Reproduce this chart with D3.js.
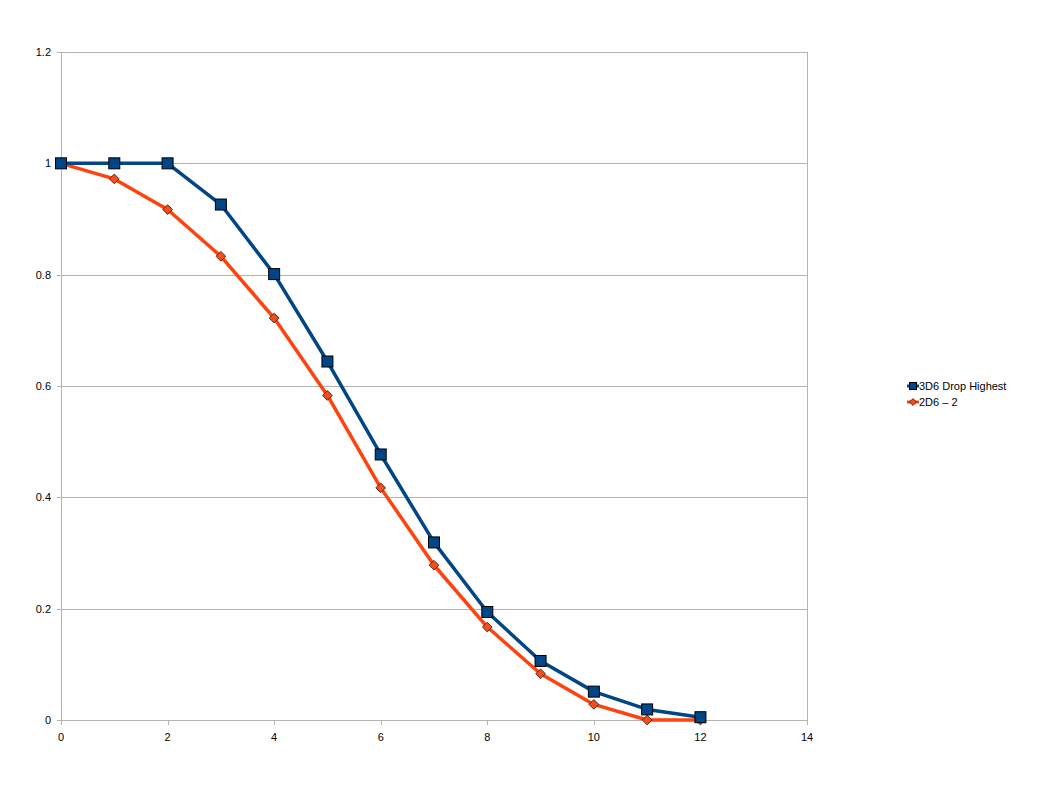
<!DOCTYPE html>
<html>
  <head>
    <meta charset="utf-8"/>
    <style>
    body {
      font-family: "Liberation Sans", Arial, sans-serif;
      margin: 0;
      background: #fff;
    }
    </style>
  </head>
  <body>
    <script src="https://d3js.org/d3.v7.min.js"></script>
    <script>
    var xValues = [0, 1, 2, 3, 4, 5, 6, 7, 8, 9, 10, 11, 12];
    var dropHighest = [1, 1, 1, 0.926, 0.801, 0.644, 0.477, 0.319, 0.194, 0.106, 0.051, 0.019, 0.005];
    var twoD6 = [1, 0.972, 0.917, 0.833, 0.722, 0.583, 0.417, 0.278, 0.167, 0.083, 0.028, 0, 0];
    var xTicks = [0, 2, 4, 6, 8, 10, 12, 14];
    var yTicks = [0, 0.2, 0.4, 0.6, 0.8, 1, 1.2];
    var seriesNames = ["3D6 Drop Highest", "2D6 \u2013 2"];

    var width = 1058, height = 794;
    var plotLeft = 61, plotRight = 807, plotTop = 52, plotBottom = 720;

    var x = d3.scaleLinear().domain([0, 14]).range([plotLeft, plotRight]);
    var y = d3.scaleLinear().domain([0, 1.2]).range([plotBottom, plotTop]);

    var svg = d3.select("body").append("svg")
        .attr("width", width)
        .attr("height", height);

    // grid
    svg.append("g").selectAll("line")
        .data(yTicks)
      .enter().append("line")
        .attr("x1", plotLeft - 4)
        .attr("x2", plotRight)
        .attr("y1", function(d) { return Math.round(y(d)) + 0.5; })
        .attr("y2", function(d) { return Math.round(y(d)) + 0.5; })
        .attr("stroke", "#b3b3b3");

    svg.append("line")
        .attr("x1", plotLeft + 0.5).attr("x2", plotLeft + 0.5)
        .attr("y1", plotTop).attr("y2", plotBottom)
        .attr("stroke", "#b3b3b3");
    svg.append("line")
        .attr("x1", plotRight + 0.5).attr("x2", plotRight + 0.5)
        .attr("y1", plotTop).attr("y2", plotBottom + 4)
        .attr("stroke", "#b3b3b3");

    svg.append("g").selectAll("line")
        .data(xTicks)
      .enter().append("line")
        .attr("x1", function(d) { return Math.round(x(d)) + 0.5; })
        .attr("x2", function(d) { return Math.round(x(d)) + 0.5; })
        .attr("y1", plotBottom)
        .attr("y2", plotBottom + 5)
        .attr("stroke", "#b3b3b3");

    svg.append("g").selectAll("text")
        .data(yTicks)
      .enter().append("text")
        .attr("x", plotLeft - 10)
        .attr("y", function(d) { return y(d) + 4; })
        .attr("text-anchor", "end")
        .attr("font-size", 11)
        .text(function(d) { return d3.format("~g")(d); });

    svg.append("g").selectAll("text")
        .data(xTicks)
      .enter().append("text")
        .attr("x", function(d) { return x(d); })
        .attr("y", plotBottom + 21)
        .attr("text-anchor", "middle")
        .attr("font-size", 11)
        .text(function(d) { return d; });

    var line = d3.line()
        .x(function(d, i) { return x(xValues[i]); })
        .y(function(d) { return y(d); });

    // orange series
    svg.append("path")
        .datum(twoD6)
        .attr("d", line)
        .attr("fill", "none")
        .attr("stroke", "#ff420e")
        .attr("stroke-width", 3.5)
        .attr("stroke-linejoin", "round");

    svg.append("g").selectAll("path")
        .data(twoD6)
      .enter().append("path")
        .attr("d", d3.symbol().type(d3.symbolDiamond2).size(60))
        .attr("transform", function(d, i) { return "translate(" + x(xValues[i]) + "," + y(d) + ")"; })
        .attr("fill", "#f0501e")
        .attr("stroke", "#5a2a10")
        .attr("stroke-width", 1);

    // blue series
    svg.append("path")
        .datum(dropHighest)
        .attr("d", line)
        .attr("fill", "none")
        .attr("stroke", "#004586")
        .attr("stroke-width", 3.5)
        .attr("stroke-linejoin", "round");

    svg.append("g").selectAll("rect")
        .data(dropHighest)
      .enter().append("rect")
        .attr("x", function(d, i) { return x(xValues[i]) - 5.5; })
        .attr("y", function(d) { return y(d) - 5.5; })
        .attr("width", 11)
        .attr("height", 11)
        .attr("fill", "#004586")
        .attr("stroke", "#000")
        .attr("stroke-width", 1);

    // legend
    var legend = svg.append("g").attr("transform", "translate(907,386)");
    var colors = ["#004586", "#ff420e"];
    seriesNames.forEach(function(name, i) {
      var g = legend.append("g").attr("transform", "translate(0," + (i * 16) + ")");
      g.append("line")
          .attr("x1", 0).attr("x2", 12)
          .attr("stroke", colors[i])
          .attr("stroke-width", 3);
      if (i === 0) {
        g.append("rect")
            .attr("x", 2.5).attr("y", -3.5)
            .attr("width", 7).attr("height", 7)
            .attr("fill", colors[i])
            .attr("stroke", "#000");
      } else {
        g.append("path")
            .attr("d", d3.symbol().type(d3.symbolDiamond2).size(30))
            .attr("transform", "translate(6,0)")
            .attr("fill", "#f0501e")
            .attr("stroke", "#5a2a10");
      }
      g.append("text")
          .attr("x", 12)
          .attr("y", 4)
          .attr("font-size", 11)
          .text(name);
    });
    </script>
  </body>
</html>
